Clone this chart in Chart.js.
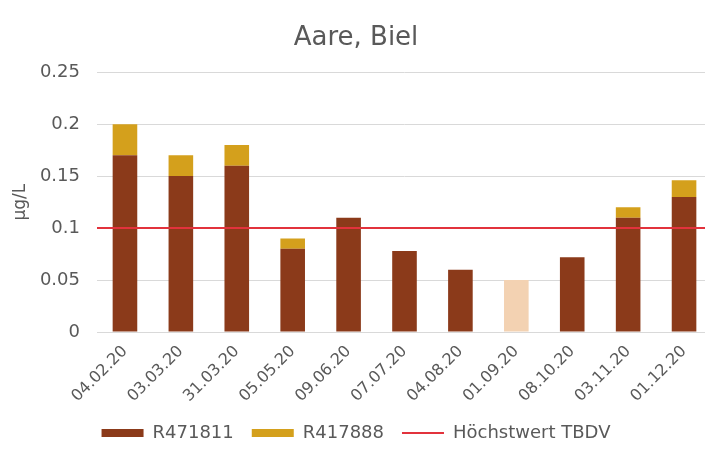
<!DOCTYPE html>
<html>
<head>
<meta charset="utf-8">
<script src="https://cdn.jsdelivr.net/npm/chart.js@4.4.1/dist/chart.umd.min.js"></script>
<style>
  html, body { margin: 0; padding: 0; background: #fff; overflow: hidden; }
  #wrap { position: relative; width: 712px; height: 450px; }
</style>
</head>
<body>
<div id="wrap"><canvas id="c"></canvas></div>
<script>
// ---- data ----
const categories = ["04.02.20","03.03.20","31.03.20","05.05.20","09.06.20","07.07.20","04.08.20","01.09.20","08.10.20","03.11.20","01.12.20"];
const seriesR471811 = [0.17, 0.15, 0.16, 0.08, 0.11, 0.078, 0.06, 0.05, 0.072, 0.11, 0.13];
const seriesR417888 = [0.03, 0.02, 0.02, 0.01, 0, 0, 0, 0, 0, 0.01, 0.016];
const belowQuantification = [false, false, false, false, false, false, false, true, false, false, false];
const limitValue = 0.1;
const limitSpan = [0, 1];
const yTicks = [0, 0.05, 0.1, 0.15, 0.2, 0.25];

// ---- styles ----
const BROWN = '#8B3A1A';
const LIGHT = '#F3D2B2';
const GOLD = '#D4A01C';
const RED = '#E2323C';
const TEXT = '#595959';
const GRID = '#D9D9D9';
const FONT = '"DejaVu Sans", Arial, sans-serif';

new Chart(document.getElementById('c'), {
  data: {
    labels: categories,
    datasets: [
      {
        type: 'bar',
        label: 'R471811',
        data: seriesR471811,
        backgroundColor: (ctx) => (ctx.dataIndex !== undefined && belowQuantification[ctx.dataIndex]) ? LIGHT : BROWN,
        borderWidth: 0,
        pointStyle: 'rect',
        stack: 'samples',
        grouped: false,
        categoryPercentage: 1,
        barPercentage: 0.44,
        order: 2
      },
      {
        type: 'bar',
        label: 'R417888',
        data: seriesR417888,
        backgroundColor: GOLD,
        borderWidth: 0,
        pointStyle: 'rect',
        stack: 'samples',
        grouped: false,
        categoryPercentage: 1,
        barPercentage: 0.44,
        order: 2
      },
      {
        type: 'line',
        label: 'Höchstwert TBDV',
        data: limitSpan.map(x => ({ x: x, y: limitValue })),
        xAxisID: 'x2',
        borderColor: RED,
        backgroundColor: RED,
        borderWidth: 2,
        pointRadius: 0,
        pointStyle: 'line',
        fill: false,
        order: 1
      }
    ]
  },
  options: {
    responsive: true,
    maintainAspectRatio: false,
    animation: false,
    locale: 'en-US',
    layout: { padding: { left: 0, right: 0, top: 0, bottom: -2 } },
    plugins: {
      title: {
        display: true,
        text: 'Aare, Biel',
        color: TEXT,
        font: { family: FONT, size: 26, weight: 'normal', lineHeight: 1.2 },
        padding: { top: 23, bottom: 18 }
      },
      legend: {
        position: 'bottom',
        labels: {
          usePointStyle: true,
          pointStyleWidth: 42,
          boxHeight: 8,
          color: TEXT,
          padding: 18,
          font: { family: FONT, size: 18, lineHeight: 1 },
          sort: (a, b) => a.datasetIndex - b.datasetIndex
        }
      },
      tooltip: { enabled: false }
    },
    scales: {
      x: {
        stacked: true,
        offset: true,
        grid: { display: false },
        border: { display: true, color: GRID },
        ticks: {
          color: TEXT,
          font: { family: FONT, size: 16 },
          maxRotation: 45,
          minRotation: 45,
          padding: 2
        },
        afterFit: (s) => { s.height = 74; }
      },
      x2: {
        type: 'linear',
        min: limitSpan[0],
        max: limitSpan[1],
        display: false,
        offset: false
      },
      y: {
        stacked: true,
        min: 0,
        max: yTicks[yTicks.length - 1],
        afterBuildTicks: (s) => { s.ticks = yTicks.map(v => ({ value: v })); },
        grid: { color: GRID, drawTicks: false },
        border: { display: false },
        ticks: {
          color: TEXT,
          font: { family: FONT, size: 18 },
          padding: 17,
          callback: (v) => String(Number(v.toFixed(2)))
        },
        title: {
          display: true,
          text: 'µg/L',
          color: TEXT,
          font: { family: FONT, size: 17 },
          padding: { top: 10, bottom: 0 }
        },
        afterFit: (s) => { s.width = 97; }
      }
    }
  }
});
</script>
</body>
</html>
